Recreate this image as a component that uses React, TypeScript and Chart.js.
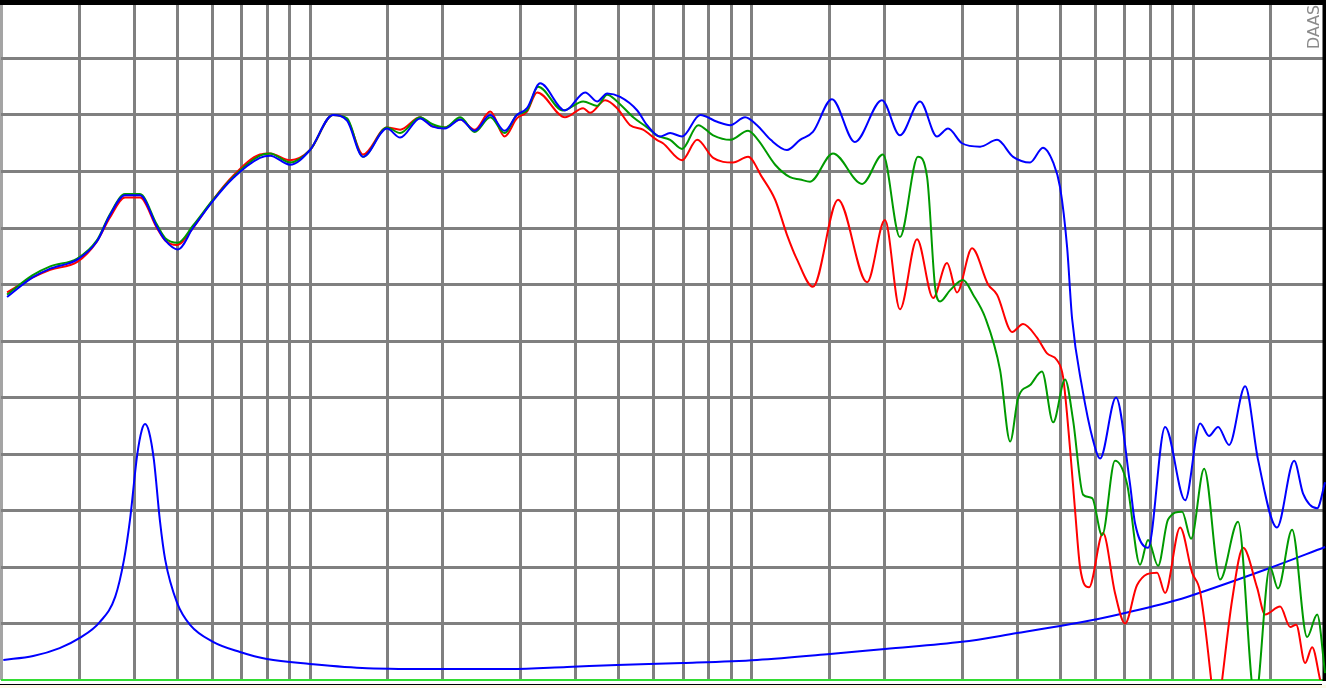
import React, { useEffect, useRef } from "react";
import { Chart, registerables } from "chart.js";

Chart.register(...registerables);

// Grid frequencies (Hz) on the logarithmic axis
const gridFreqs = [
  20, 30, 40, 50, 60, 70, 80, 90, 100, 150, 200, 300, 400, 500, 600, 700, 800, 900,
  1000, 1500, 2000, 3000, 4000, 5000, 6000, 7000, 8000, 9000, 10000, 15000, 20000,
];
// Level grid (dB)
const dbTicks = [40, 45, 50, 55, 60, 65, 70, 75, 80, 85, 90, 95, 100];

// [frequency Hz, SPL dB]
const blueResponse: [number, number][] = [
  [20.6, 73.9], [23.5, 75.6], [25.8, 76.4], [29.7, 77.2], [32.9, 78.8], [35.2, 81.1], [38.1, 82.9],
  [41.2, 82.9], [45.0, 80.1], [47.0, 78.9], [50.2, 78.1], [54.3, 80.0], [60.3, 82.4], [66.9, 84.4],
  [77.0, 86.2], [81.2, 86.4], [90.1, 85.6], [100, 86.9], [112.7, 90.0], [121.3, 89.5], [131.8, 86.3],
  [149.4, 88.8], [160, 88.0], [177.5, 89.7], [189, 89.0], [202, 88.8], [219, 89.6], [236, 88.6],
  [256, 90.0], [276, 88.6], [294, 90.0], [310, 90.6], [332, 92.8], [378, 90.4], [420, 92.0],
  [447, 91.2], [471, 91.9], [504, 91.6], [551, 90.4], [580, 89.1], [620, 88.1], [654, 88.4],
  [696, 88.1], [765, 90.0], [836, 89.4], [894, 89.1], [967, 89.8], [1029, 89.1], [1105, 87.8],
  [1203, 86.9], [1288, 87.8], [1377, 88.5], [1521, 91.4], [1714, 87.6], [1974, 91.3], [2168, 88.2],
  [2408, 91.2], [2630, 88.1], [2786, 88.8], [2996, 87.5], [3294, 87.2], [3598, 87.8], [3912, 86.3],
  [4276, 85.8], [4571, 87.1], [4820, 85.8], [4998, 83.6], [5184, 78.3], [5320, 72.0], [5606, 65.9],
  [5937, 61.2], [6157, 59.6], [6690, 65.0], [7194, 57.4], [7386, 53.9], [7907, 51.7], [8641, 62.4],
  [9594, 55.9], [10375, 62.7], [10866, 61.6], [11394, 62.4], [12066, 60.8], [13119, 66.0],
  [14030, 59.5], [15490, 53.5], [16940, 59.4], [17746, 56.5], [19100, 55.2], [19908, 57.5],
];

const greenResponse: [number, number][] = [
  [20.6, 74.1], [23.5, 75.8], [25.8, 76.6], [29.7, 77.3], [32.9, 78.9], [35.2, 81.2], [38.1, 83.0],
  [41.2, 83.0], [45.0, 80.3], [47.0, 79.1], [50.2, 78.7], [54.3, 80.2], [60.3, 82.5], [66.9, 84.5],
  [77.0, 86.4], [81.2, 86.6], [90.1, 85.8], [100, 86.9], [112.7, 90.0], [121.3, 89.7], [131.8, 86.3],
  [149.4, 88.9], [160, 88.4], [177.5, 89.8], [189, 89.2], [202, 88.9], [219, 89.8], [236, 88.5],
  [256, 89.8], [276, 88.4], [294, 90.0], [310, 90.4], [328.5, 92.5], [374, 90.4], [415.6, 91.2],
  [447, 90.8], [471, 91.8], [496, 91.2], [539.5, 89.8], [580, 88.9], [610, 88.2], [654, 87.8],
  [696, 87.0], [757, 89.1], [818.7, 88.2], [894, 87.8], [982, 88.6], [1034, 87.8], [1131, 85.6],
  [1222, 84.5], [1288, 84.3], [1357, 84.1], [1529, 86.6], [1780, 83.9], [1984, 86.5], [2168, 79.2],
  [2382, 86.3], [2498, 84.5], [2604, 74.8], [2673, 73.5], [2817, 74.5], [3012, 75.4], [3176, 74.1],
  [3380, 72.1], [3656, 67.4], [3852, 61.1], [4017, 65.0], [4276, 66.1], [4547, 67.3], [4820, 62.8],
  [5129, 66.6], [5348, 63.0], [5635, 56.4], [5906, 56.1], [6222, 52.8], [6655, 59.4], [7082, 57.4],
  [7584, 50.2], [7907, 52.4], [8332, 50.1], [8777, 54.2], [9444, 54.9], [9897, 52.5], [10593, 58.7],
  [11514, 48.9], [12642, 54.0], [13821, 38.2], [14930, 50.0], [15571, 48.1], [16758, 53.3],
  [18126, 43.8], [19100, 45.8], [19908, 40.6],
];

const redResponse: [number, number][] = [
  [20.6, 74.3], [23.5, 75.6], [25.8, 76.3], [29.7, 77.0], [32.9, 78.8], [35.2, 80.9], [38.1, 82.7],
  [41.2, 82.7], [45.0, 80.0], [47.0, 78.9], [49.9, 78.5], [54.3, 80.0], [60.3, 82.5], [66.9, 84.6],
  [77.0, 86.5], [81.2, 86.6], [90.1, 86.0], [100, 86.9], [112.7, 90.0], [121.3, 89.6], [131.8, 86.5],
  [149.4, 88.9], [160, 88.7], [177.5, 89.8], [189, 89.0], [202, 88.9], [219, 89.6], [236, 88.7],
  [256, 90.3], [276, 88.1], [294, 89.7], [310, 90.3], [326.8, 92.0], [378, 89.8], [415.6, 90.6],
  [430.6, 90.2], [466, 91.3], [496, 90.6], [530.8, 89.1], [567.8, 88.7], [610, 87.8], [630, 87.5],
  [696, 86.0], [753, 87.8], [818.7, 86.2], [908, 85.8], [982, 86.3], [1056, 84.5], [1131, 82.5],
  [1203, 79.4], [1268, 77.2], [1377, 74.8], [1570, 82.5], [1827, 75.2], [2005, 80.7], [2168, 72.8],
  [2370, 79.0], [2578, 73.8], [2771, 76.9], [2920, 74.3], [3158, 78.2], [3434, 75.0], [3598, 74.1],
  [3892, 70.8], [4120, 71.5], [4431, 70.3], [4669, 68.9], [4920, 68.3], [5077, 66.8], [5266, 60.4],
  [5404, 55.0], [5546, 50.0], [5812, 48.2], [6252, 53.0], [6655, 47.7], [7014, 45.0], [7468, 48.4],
  [8289, 49.5], [8641, 47.7], [9346, 53.5], [9949, 49.5], [10375, 47.8], [10990, 40.0], [11276, 35.6],
  [11634, 40.0], [12260, 47.1], [12980, 51.7], [13957, 48.2], [14558, 45.8], [15744, 46.5],
  [16592, 44.7], [17118, 44.9], [17938, 41.5], [18606, 42.9], [19400, 40.0], [19908, 38.2],
];

// [frequency Hz, impedance ohm]
const impedance: [number, number][] = [
  [20.2, 7.1], [23.6, 8.5], [27.1, 11.3], [30.1, 14.9], [33.4, 20.5], [36.2, 29.4], [37.9, 42.5],
  [39.1, 56.6], [40.6, 79.6], [41.6, 88.5], [42.3, 90.6], [43.2, 87.8], [44.3, 77.9], [45.7, 56.6],
  [47.0, 42.5], [50.0, 27.3], [53.5, 19.5], [60.3, 13.5], [69.4, 9.9], [79.9, 7.4], [100, 5.7],
  [134.6, 4.2], [200, 3.9], [283.8, 3.9], [382, 4.6], [496, 5.3], [699.6, 6.0], [1029, 7.1],
  [1506, 9.2], [2005, 11.0], [2996, 13.5], [3994, 16.6], [4998, 19.1], [6092, 21.6], [7014, 23.7],
  [9198, 28.3], [9694, 29.4], [14708, 39.3], [19908, 47.1],
];

const label = "DAAS";

const toXY = (arr: [number, number][]) => arr.map(([x, y]) => ({ x, y }));

const framePlugin = {
  id: "frame",
  beforeDraw(chart: any) {
    const { ctx, width, height, chartArea } = chart;
    ctx.save();
    ctx.fillStyle = "#ffffff";
    ctx.fillRect(0, 0, width, height);
    ctx.fillStyle = "#fdf9ea";
    ctx.fillRect(0, chartArea.bottom + 5, width, height);
    ctx.fillStyle = "#000000";
    ctx.fillRect(0, chartArea.bottom + 4, 1322, 1);
    ctx.restore();
  },
  beforeDatasetsDraw(chart: any) {
    const { ctx, width, chartArea } = chart;
    ctx.save();
    ctx.fillStyle = "#000000";
    ctx.fillRect(0, 0, width, 5);
    ctx.fillRect(1322.5, 0, width - 1322.5, chartArea.bottom + 1);
    ctx.restore();
  },
  afterDraw(chart: any) {
    const { ctx } = chart;
    ctx.save();
    ctx.translate(1315, 49);
    ctx.rotate(-Math.PI / 2);
    ctx.fillStyle = "#8a8a8a";
    ctx.font = '16px "DejaVu Sans"';
    ctx.textAlign = "left";
    ctx.textBaseline = "middle";
    ctx.fillText(label, 0, 0, 44);
    ctx.restore();
  },
};

export default function App() {
  const ref = useRef<HTMLCanvasElement>(null);
  useEffect(() => {
    if (!ref.current) return;
    const chart = new Chart(ref.current, {
      type: "line",
      data: {
        datasets: [
          { data: toXY(blueResponse), borderColor: "#0000ff", order: 0, yAxisID: "y" },
          { data: toXY(greenResponse), borderColor: "#009a00", order: 1, yAxisID: "y" },
          { data: toXY(redResponse), borderColor: "#ff0000", order: 2, yAxisID: "y" },
          { data: toXY(impedance), borderColor: "#0000ff", order: 3, yAxisID: "z" },
        ],
      },
      options: {
        responsive: false,
        animation: false,
        devicePixelRatio: 1,
        layout: { padding: { left: 1.4, top: 2, right: 0, bottom: 8 } },
        elements: {
          point: { radius: 0, hoverRadius: 0 },
          line: { borderWidth: 2, cubicInterpolationMode: "monotone", fill: false },
        },
        plugins: { legend: { display: false }, tooltip: { enabled: false }, title: { display: false } },
        events: [],
        scales: {
          x: {
            type: "logarithmic",
            min: 20,
            max: 20000,
            afterBuildTicks: (scale: any) => {
              scale.ticks = gridFreqs.map((v) => ({ value: v }));
            },
            ticks: { display: false },
            border: { display: false },
            grid: {
              drawTicks: false,
              lineWidth: 3,
              color: (c: any) => (c.tick && c.tick.value === 20 ? "#a4a4a4" : "#808080"),
            },
          },
          y: {
            type: "linear",
            min: 40,
            max: 100,
            afterBuildTicks: (scale: any) => {
              scale.ticks = dbTicks.map((v) => ({ value: v }));
            },
            ticks: { display: false },
            border: { display: false },
            grid: {
              drawTicks: false,
              lineWidth: (c: any) => (c.tick && c.tick.value === 40 ? 2 : 3),
              color: (c: any) => (c.tick && c.tick.value === 40 ? "#33dd33" : "#808080"),
            },
          },
          z: {
            type: "linear",
            display: false,
            min: 0,
            max: 240,
          },
        },
      },
      plugins: [framePlugin],
    } as any);
    return () => chart.destroy();
  }, []);
  return (
    <div style={{ position: "fixed", left: 0, top: 0, width: 1326, height: 688, background: "#fff" }}>
      <canvas ref={ref} width={1326} height={688} style={{ display: "block", width: 1326, height: 688 }} />
    </div>
  );
}
